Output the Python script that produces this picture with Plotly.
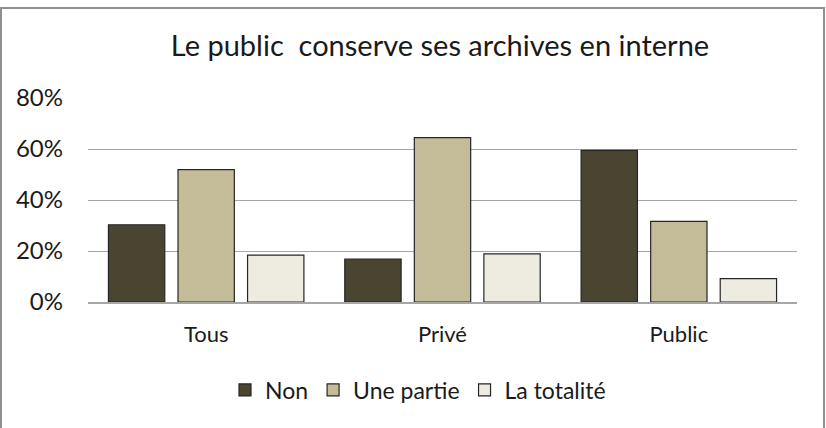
import plotly.graph_objects as go

categories = ["Tous", "Privé", "Public"]
non = [30.3, 16.8, 59.5]
une_partie = [51.9, 64.5, 31.6]
totalite = [18.4, 18.9, 9.2]
series_names = ["Non", "Une partie", "La totalité"]
colors = ["#4a4530", "#c4bc98", "#eeebe0"]

FONT = "Lato, 'Open Sans', sans-serif"

fig = go.Figure()
for name, vals, col in zip(series_names, [non, une_partie, totalite], colors):
    fig.add_trace(go.Bar(
        x=categories, y=vals, name=name,
        marker=dict(color=col, line=dict(color="#262626", width=1.2)),
    ))

W, H = 826, 428
L, R, T, B = 88, 29, 98, 126
pw, ph = W - L - R, H - T - B

def px_x(p):
    return (p - L) / pw

def px_y(p):
    return (H - B - p) / ph

fig.add_shape(type="rect", xref="paper", yref="paper",
              x0=px_x(1), x1=px_x(824), y0=px_y(440), y1=px_y(8),
              line=dict(color="#8f8f8f", width=2), fillcolor="rgba(0,0,0,0)", layer="below")

fig.update_layout(
    width=W, height=H,
    margin=dict(l=L, r=R, t=T, b=B, pad=0),
    paper_bgcolor="white", plot_bgcolor="white",
    barmode="group", bargap=0.117, bargroupgap=0.19,
    font=dict(family=FONT, color="#1a1a1a"),
    title=dict(text="Le public  conserve ses archives en interne",
               x=px_x(440), xref="paper", xanchor="center", y=1 - 46 / H, yanchor="middle",
               font=dict(size=29, family=FONT, color="#1a1a1a")),
    showlegend=True,
    legend=dict(orientation="h", x=px_x(418), xref="paper", xanchor="center",
                y=px_y(390), yanchor="middle",
                font=dict(size=23, family=FONT, color="#1a1a1a"),
                itemwidth=30, traceorder="normal"),
    xaxis=dict(showgrid=False, showline=True, linecolor="#a6a6a6", linewidth=1.5,
               ticks="", tickfont=dict(size=22, family=FONT, color="#1a1a1a"),
               ticklabelstandoff=12),
    yaxis=dict(range=[0, 80], dtick=20, ticksuffix="%", showgrid=True,
               gridcolor="#a6a6a6", gridwidth=1.2, zeroline=False, showline=False,
               ticks="", tickfont=dict(size=24, family=FONT, color="#1a1a1a"),
               ticklabelstandoff=24),
)

fig.write_html("out.html", config={"displayModeBar": False},
               post_script="document.body.style.margin='0';document.body.style.overflow='hidden';")
